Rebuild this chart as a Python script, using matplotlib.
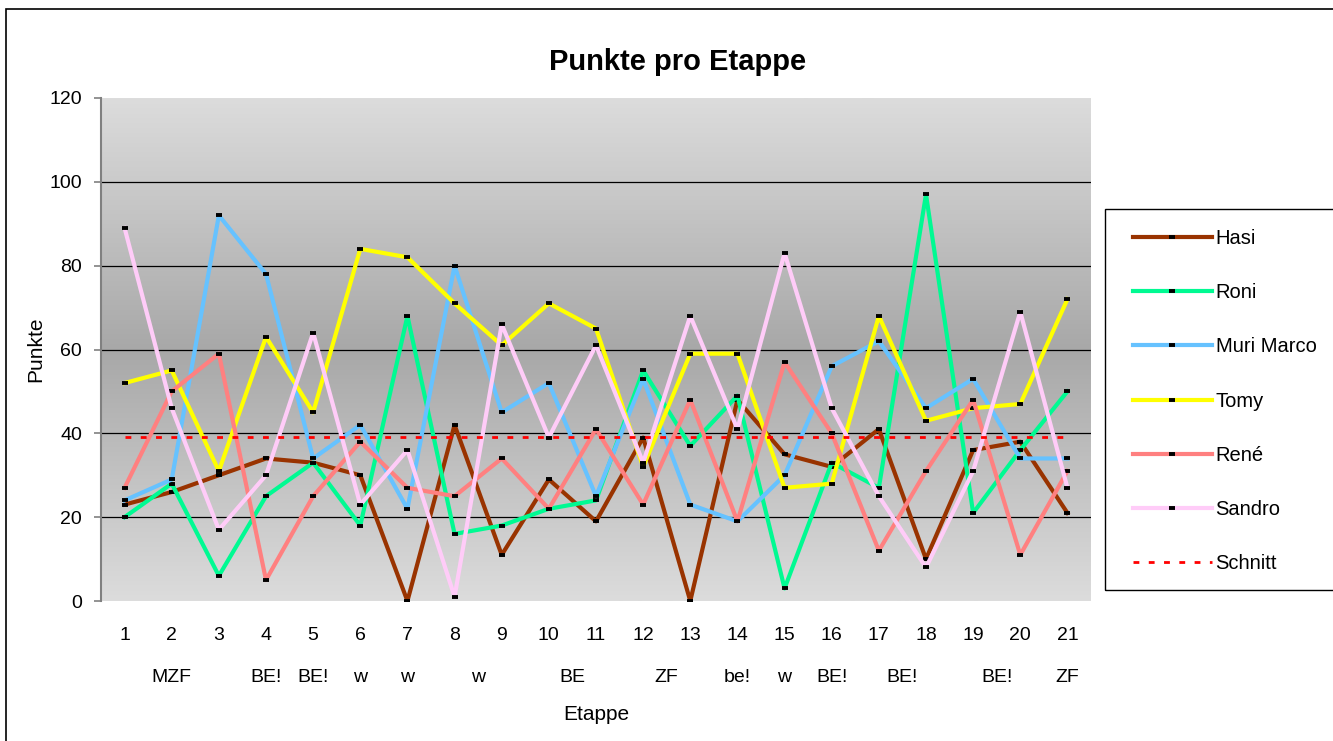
import matplotlib
matplotlib.use("Agg")
import matplotlib.pyplot as plt
import numpy as np
from matplotlib.colors import LinearSegmentedColormap
from matplotlib.patches import Rectangle

plt.rcParams["font.family"] = ["Liberation Sans", "DejaVu Sans"]

# Punkte pro Etappe
etappen = list(range(1, 22))
hasi = [23, 26, 30, 34, 33, 30, 0, 42, 11, 29, 19, 39, 0, 48, 35, 32, 41, 10, 36, 38, 21]
roni = [20, 28, 6, 25, 33, 18, 68, 16, 18, 22, 24, 55, 37, 49, 3, 33, 27, 97, 21, 36, 50]
muri_marco = [24, 29, 92, 78, 34, 42, 22, 80, 45, 52, 25, 53, 23, 19, 30, 56, 62, 46, 53, 34, 34]
tomy = [52, 55, 31, 63, 45, 84, 82, 71, 61, 71, 65, 32, 59, 59, 27, 28, 68, 43, 46, 47, 72]
rene = [27, 50, 59, 5, 25, 38, 27, 25, 34, 22, 41, 23, 48, 19, 57, 40, 12, 31, 48, 11, 31]
sandro = [89, 46, 17, 30, 64, 23, 36, 1, 66, 39, 61, 33, 68, 41, 83, 46, 25, 8, 31, 69, 27]
schnitt = 39.2

# zweite Beschriftungszeile unter den Etappen
typ_pos = [2, 4, 5, 6, 7, 8.5, 10.5, 12.5, 14, 15, 16, 17.5, 19.5, 21]
typ_labels = ["MZF", "BE!", "BE!", "w", "w", "w", "BE", "ZF", "be!", "w", "BE!", "BE!", "BE!", "ZF"]

series = [
    ("Hasi", hasi, "#993300"),
    ("Roni", roni, "#00FA92"),
    ("Muri Marco", muri_marco, "#66C2FF"),
    ("Tomy", tomy, "#FFFF00"),
    ("René", rene, "#FF8080"),
    ("Sandro", sandro, "#FFCCF8"),
]

W, H = 1333, 741
fig = plt.figure(figsize=(W / 100, H / 100), dpi=100)
ax = fig.add_axes([101 / W, 140 / H, 990 / W, 503 / H])

# grauer Verlauf im Hintergrund (dunkel in der Mitte)
grad = np.abs(np.linspace(-1, 1, 256))[:, None]
cmap = LinearSegmentedColormap.from_list("bg", ["#a8a8a8", "#dcdcdc"])
ax.imshow(grad, extent=(0.5, 21.5, 0, 120), aspect="auto", cmap=cmap, origin="lower", zorder=0)

for y in range(20, 101, 20):
    ax.axhline(y, color="black", lw=0.9, zorder=1)

for name, vals, color in series:
    ax.plot(etappen, vals, color=color, lw=3, marker="_", ms=5, mew=2.8, mec="black",
            label=name, zorder=2)
ax.plot(etappen, [schnitt] * len(etappen), color="red", lw=2, dashes=(2.1, 3.4),
        label="Schnitt", zorder=3)

ax.set_xlim(0.5, 21.5)
ax.set_ylim(0, 120)
ax.set_yticks(range(0, 121, 20))
ax.set_xticks(etappen)
ax.tick_params(axis="x", length=0, pad=19, labelsize=14)
ax.tick_params(axis="y", length=5, color="#808080", width=1.2, pad=8.5, labelsize=14)
for side in ["top", "right", "bottom"]:
    ax.spines[side].set_visible(False)
ax.spines["left"].set_color("#808080")
ax.spines["left"].set_linewidth(1.5)

for pos, lab in zip(typ_pos, typ_labels):
    ax.text(pos, -0.153, lab, transform=ax.get_xaxis_transform(), ha="center", va="center",
            fontsize=14)

fig.text(678 / W, 1 - 62 / H, "Punkte pro Etappe", fontsize=21, weight="bold",
         ha="center", va="center")
fig.text(596 / W, 1 - 715 / H, "Etappe", fontsize=15, ha="center", va="center")
fig.text(36 / W, 1 - 349 / H, "Punkte", fontsize=15, rotation=90, ha="center", va="center")

# Legende ohne eigenen Rahmen, Rahmen separat (läuft rechts aus dem Bild)
ax.legend(loc="upper left", bbox_to_anchor=(1133 / W, 1 - 229 / H),
          bbox_transform=fig.transFigure, frameon=False, borderaxespad=0, borderpad=0,
          fontsize=14.5, handlelength=3.9, handletextpad=0.2, labelspacing=1.75)
fig.add_artist(Rectangle((1105 / W, 1 - 590 / H), 0.5, (590 - 209) / H,
                         transform=fig.transFigure, fill=False, edgecolor="black", lw=1.0))

fig.add_artist(Rectangle((6 / W, -0.5), 2, 1.5 - 9 / H, transform=fig.transFigure,
                         fill=False, edgecolor="black", lw=1.2))

fig.savefig("out.png", dpi=100)
